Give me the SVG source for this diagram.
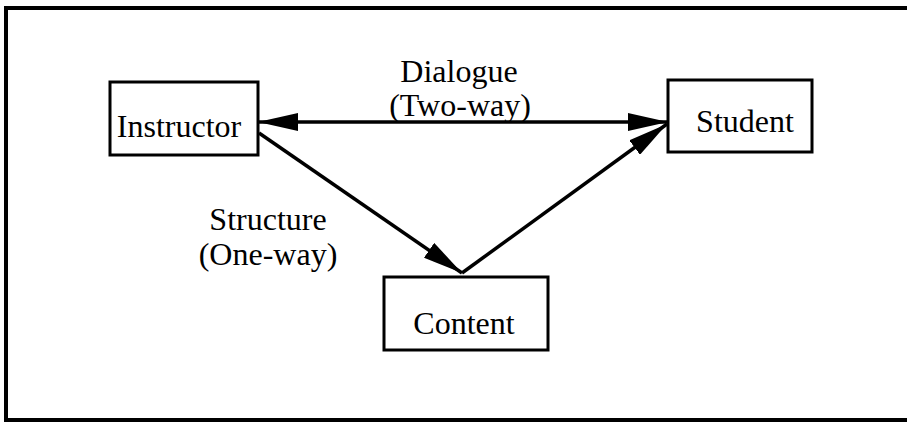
<svg xmlns="http://www.w3.org/2000/svg" width="907" height="422" viewBox="0 0 907 422">
<style>
.box{fill:#fff;stroke:#000;stroke-width:3}
.lbl{font-family:"Liberation Serif","Times New Roman",serif;font-size:32px;fill:#000;text-anchor:middle}
.edge{stroke:#000;stroke-width:3.5;fill:none}
.frame{stroke:#000;stroke-width:4;fill:none}
</style>
<defs>
<marker id="ah" viewBox="0 0 40 18" refX="40" refY="9" markerWidth="40" markerHeight="18" markerUnits="userSpaceOnUse" orient="auto-start-reverse">
<path d="M0,0 L40,9 L0,18 z" fill="#000"/>
</marker>
</defs>
<rect width="907" height="422" fill="#fff"/>
<path class="frame" d="M910,8 L6,8 L6,420 L910,420"/>
<g id="connectors">
<line class="edge" x1="258" y1="122" x2="668" y2="122" marker-start="url(#ah)" marker-end="url(#ah)"/>
<line class="edge" x1="259" y1="133" x2="462" y2="273" marker-end="url(#ah)"/>
<line class="edge" x1="462" y1="273" x2="667" y2="124" marker-end="url(#ah)"/>
<text class="lbl" x="459" y="82">Dialogue</text>
<text class="lbl" x="460" y="116">(Two-way)</text>
<text class="lbl" x="268" y="230">Structure</text>
<text class="lbl" x="268" y="265">(One-way)</text>
</g>
<g id="instructor">
<rect class="box" x="110" y="82" width="148" height="73"/>
<text class="lbl" x="179" y="137">Instructor</text>
</g>
<g id="student">
<rect class="box" x="668" y="80" width="144" height="72"/>
<text class="lbl" x="745" y="132">Student</text>
</g>
<g id="content">
<rect class="box" x="384" y="277" width="164" height="73"/>
<text class="lbl" x="464" y="334">Content</text>
</g>
</svg>
